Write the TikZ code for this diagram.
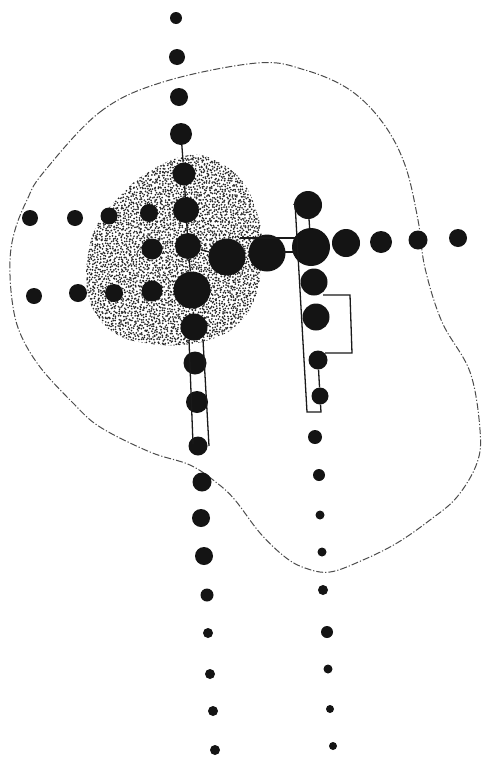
\documentclass[tikz,border=0pt]{standalone}
\begin{document}
\begin{tikzpicture}[x=1pt,y=-1pt,
  blob/.style={circle,fill=black!92,inner sep=0pt,minimum size=#1},
  link/.style={line width=1.3pt,black!90},
  outline/.style={line width=1pt,black!70,dash pattern=on 7pt off 2pt on 1.2pt off 2pt}]
\useasboundingbox (0,0) rectangle (484,758);
% stippled area
\begin{scope}
\clip plot[smooth cycle,tension=0.7] coordinates {(190,155) (220,163) (243,182) (256,210) (262,238) (261,268) (255,298) (240,322) (215,338) (180,345) (145,343) (118,335) (97,316) (87,288) (88,255) (97,225) (118,198) (148,172)};
\pgfmathsetseed{7}
\foreach \i in {82,84.6,...,266} {
  \foreach \j in {150,152.6,...,348} {
    \fill[black!85] (\i+rand*1.2,\j+rand*1.2) circle (0.95pt);
  }
}
\end{scope}
% dash-dot outline
\draw[outline] plot[smooth cycle,tension=0.6] coordinates {(43,173) (100,112) (163,82) (257,63) (305,70) (350,90) (383,123) (405,165) (418,220) (425,268) (442,322) (470,372) (480,430) (477,463) (457,497) (430,520) (397,543) (363,560) (330,572) (305,568) (285,557) (260,533) (235,500) (217,483) (190,465) (150,452) (100,427) (73,403) (40,367) (20,333) (12,300) (10,260) (15,230) (27,200)};
% vertical column (left)
\node[blob=12] (c1) at (176,18) {};
\node[blob=16] (c2) at (177,57) {};
\node[blob=18] (c3) at (179,97) {};
\node[blob=22] (c4) at (181,134) {};
\node[blob=23] (c5) at (184,174) {};
\node[blob=26] (c6) at (186,210) {};
\node[blob=26] (c7) at (188,246) {};
\node[blob=37] (c8) at (192,290) {};
\node[blob=27] (c9) at (194,327) {};
\node[blob=23] (c10) at (195,363) {};
\node[blob=22] (c11) at (197,402) {};
\node[blob=19] (c12) at (198,446) {};
\node[blob=19] (c13) at (202,482) {};
\node[blob=18] (c14) at (201,518) {};
\node[blob=18] (c15) at (204,556) {};
\node[blob=13] (c16) at (207,595) {};
\node[blob=10] (c17) at (208,633) {};
\node[blob=10] (c18) at (210,674) {};
\node[blob=10] (c19) at (213,711) {};
\node[blob=10] (c20) at (215,750) {};
% left rows
\node[blob=16] (a1) at (30,218) {};
\node[blob=16] (a2) at (75,218) {};
\node[blob=17] (a3) at (109,216) {};
\node[blob=18] (a4) at (149,213) {};
\node[blob=21] (a5) at (152,249) {};
\node[blob=16] (b1) at (34,296) {};
\node[blob=18] (b2) at (78,293) {};
\node[blob=18] (b3) at (114,293) {};
\node[blob=21] (b4) at (152,291) {};
% centre row
\node[blob=37] (L) at (227,257) {};
\node[blob=37] (L2) at (267,253) {};
\node[blob=38] (R) at (311,247) {};
\node[blob=28] (e1) at (346,243) {};
\node[blob=22] (e2) at (381,242) {};
\node[blob=19] (e3) at (418,240) {};
\node[blob=18] (e4) at (458,238) {};
% right column
\node[blob=28] (r1) at (308,205) {};
\node[blob=27] (r3) at (314,282) {};
\node[blob=27] (r4) at (316,317) {};
\node[blob=19] (r5) at (318,360) {};
\node[blob=17] (r6) at (320,396) {};
\node[blob=14] (r7) at (315,437) {};
\node[blob=12] (r8) at (319,475) {};
\node[blob=9] (r9) at (320,515) {};
\node[blob=9] (r10) at (322,552) {};
\node[blob=10] (r11) at (323,590) {};
\node[blob=12] (r12) at (327,632) {};
\node[blob=9] (r13) at (328,669) {};
\node[blob=8] (r14) at (330,709) {};
\node[blob=8] (r15) at (333,746) {};
% bracket corners
\coordinate (k1) at (295,203);
\coordinate (k2) at (307,412);
\coordinate (k3) at (321,412);
\coordinate (h1) at (240,238);
\coordinate (h2) at (295,238);
\coordinate (h3) at (283,252);
\coordinate (h4) at (296,252);
\coordinate (s1) at (323,295);
\coordinate (s2) at (350,295);
\coordinate (s3) at (352,353);
\coordinate (s4) at (325,353);
\coordinate (v1) at (189,340);
\coordinate (v2) at (193,444);
\coordinate (v3) at (203,340);
\coordinate (v4) at (209,446);
% connectors
\draw[link] (c4) -- (c5) -- (c6) -- (c7) -- (c8);
\draw[link] (c7) -- (L);
\draw[link] (r1.west) -- (k1) -- (k2) -- (k3) -- (r6);
\draw[link] (r1) -- (R);
\draw[link] (h1) -- (h2);
\draw[link] (h3) -- (h4);
\draw[link] (s1) -- (s2) -- (s3) -- (s4);
\draw[link] (r5) -- (r6);
\draw[link] (v1) -- (v2);
\draw[link] (v3) -- (v4);
\end{tikzpicture}
\end{document}
